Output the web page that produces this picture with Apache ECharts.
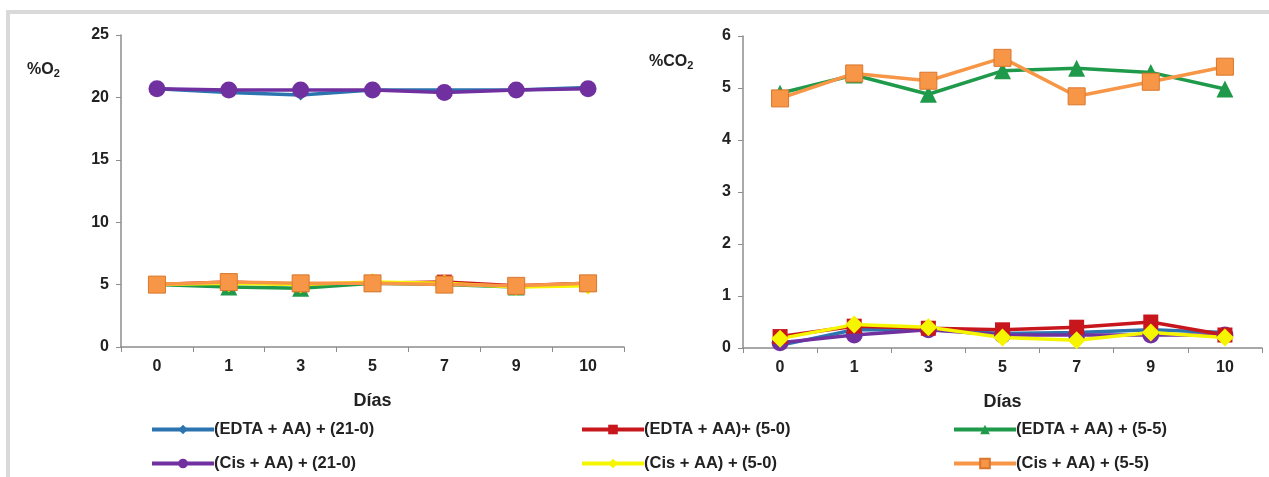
<!DOCTYPE html>
<html>
<head>
<meta charset="utf-8">
<script src="https://cdn.jsdelivr.net/npm/echarts@6/dist/echarts.min.js"></script>
<style>
  html, body { margin: 0; padding: 0; background: #fff; }
  #chart { width: 1269px; height: 477px; }
</style>
</head>
<body>
<div id="chart"></div>
<script>
// Storage days
const days = ['0', '1', '3', '5', '7', '9', '10'];

// Series names
const names = [
  '(EDTA + AA) + (21-0)',
  '(EDTA + AA)+ (5-0)',
  '(EDTA + AA) + (5-5)',
  '(Cis + AA) + (21-0)',
  '(Cis + AA) + (5-0)',
  '(Cis + AA) + (5-5)'
];

// %O2 per treatment
const o2EdtaAir   = [20.7, 20.4, 20.2, 20.6, 20.6, 20.6, 20.8];
const o2Edta50    = [5.0, 5.2, 5.0, 5.1, 5.2, 4.9, 5.1];
const o2Edta55    = [5.0, 4.8, 4.7, 5.1, 5.0, 4.8, 5.1];
const o2CisAir    = [20.7, 20.6, 20.6, 20.6, 20.4, 20.6, 20.7];
const o2Cis50     = [5.0, 5.1, 5.0, 5.2, 5.1, 4.8, 4.9];
const o2Cis55     = [5.0, 5.2, 5.1, 5.1, 5.0, 4.9, 5.1];

// %CO2 per treatment
const co2EdtaAir  = [0.05, 0.35, 0.35, 0.28, 0.30, 0.35, 0.30];
const co2Edta50   = [0.22, 0.42, 0.38, 0.35, 0.40, 0.50, 0.25];
const co2Edta55   = [4.90, 5.25, 4.88, 5.33, 5.38, 5.30, 4.98];
const co2CisAir   = [0.10, 0.25, 0.35, 0.25, 0.25, 0.25, 0.25];
const co2Cis50    = [0.18, 0.45, 0.40, 0.20, 0.15, 0.30, 0.20];
const co2Cis55    = [4.80, 5.28, 5.14, 5.58, 4.84, 5.12, 5.41];

// Axis tick settings
const o2Ticks  = { min: 0, max: 25, interval: 5 };
const co2Ticks = { min: 0, max: 6, interval: 1 };

const styles = [
  { color: '#2b74b0', symbol: 'diamond',  size: 11 },
  { color: '#c8161d', symbol: 'rect',     size: 15 },
  { color: '#1f9a4b', symbol: 'triangle', size: 17 },
  { color: '#7030a0', symbol: 'circle',   size: 17 },
  { color: '#f5f500', symbol: 'diamond',  size: 18 },
  { color: '#f79646', symbol: 'rect',     size: 17, border: '#d9772e' }
];

const FONT = 'Liberation Sans, Arial, sans-serif';

function makeSeries(idx, data, axisIdx) {
  const s = styles[idx];
  return {
    name: names[idx],
    type: 'line',
    xAxisIndex: axisIdx,
    yAxisIndex: axisIdx,
    data: data,
    symbol: s.symbol,
    symbolSize: s.size,
    showAllSymbol: true,
    lineStyle: { color: s.color, width: 3.5 },
    itemStyle: { color: s.color, borderColor: s.border || s.color, borderWidth: s.border ? 1 : 0 },
    emphasis: { disabled: true },
    animation: false
  };
}

function xAxis(gridIndex) {
  return {
    type: 'category',
    gridIndex: gridIndex,
    data: days,
    boundaryGap: true,
    name: 'Días',
    nameLocation: 'middle',
    nameGap: 45,
    nameTextStyle: { fontFamily: FONT, fontSize: 18, fontWeight: 'bold', color: '#222' },
    axisLine: { lineStyle: { color: '#8c8c8c', width: 1.5 } },
    axisTick: { show: true, length: 5, lineStyle: { color: '#8c8c8c' } },
    axisLabel: { fontFamily: FONT, fontSize: 16, fontWeight: 'bold', color: '#222', margin: 12 },
    splitLine: { show: false }
  };
}

function yAxis(gridIndex, ticks) {
  return {
    type: 'value',
    gridIndex: gridIndex,
    min: ticks.min,
    max: ticks.max,
    interval: ticks.interval,
    axisLine: { show: true, lineStyle: { color: '#8c8c8c', width: 1.5 } },
    axisTick: { show: true, length: 5, lineStyle: { color: '#8c8c8c' } },
    axisLabel: { fontFamily: FONT, fontSize: 16, fontWeight: 'bold', color: '#222', margin: 12 },
    splitLine: { show: false }
  };
}

// One legend block per entry, laid out in three columns and two rows
const legendPos = [
  { left: 150, top: 421 }, { left: 580, top: 421 }, { left: 952, top: 421 },
  { left: 150, top: 455 }, { left: 580, top: 455 }, { left: 952, top: 455 }
];
const legends = names.map((n, i) => ({
  data: [n],
  left: legendPos[i].left,
  top: legendPos[i].top,
  itemWidth: 62,
  itemHeight: 12,
  itemGap: 0,
  padding: 0,
  selectedMode: false,
  lineStyle: { width: 4 },
  textStyle: { fontFamily: FONT, fontSize: 16.5, fontWeight: 'bold', color: '#222', padding: [0, 0, 0, -5] }
}));

const axisTitleRich = {
  base: { fontFamily: FONT, fontSize: 16, fontWeight: 'bold', color: '#222' },
  sub: { fontFamily: FONT, fontSize: 11, fontWeight: 'bold', color: '#222', padding: [8, 0, 0, 0] }
};

const chart = echarts.init(document.getElementById('chart'), null, { renderer: 'canvas' });
chart.setOption({
  backgroundColor: '#ffffff',
  animation: false,
  title: [
    { text: '{base|%O}{sub|2}', left: 22, top: 55, textStyle: { rich: axisTitleRich } },
    { text: '{base|%CO}{sub|2}', left: 644, top: 47, textStyle: { rich: axisTitleRich } }
  ],
  graphic: [
    {
      type: 'polyline',
      shape: { points: [[8, 477], [8, 12], [1269, 12]] },
      style: { stroke: '#d9d9d9', lineWidth: 4, fill: null },
      silent: true
    }
  ],
  legend: legends,
  grid: [
    { left: 121, top: 35, width: 503, height: 312 },
    { left: 743, top: 36, width: 519, height: 312 }
  ],
  xAxis: [xAxis(0), xAxis(1)],
  yAxis: [yAxis(0, o2Ticks), yAxis(1, co2Ticks)],
  series: [
    makeSeries(0, o2EdtaAir, 0),
    makeSeries(3, o2CisAir, 0),
    makeSeries(1, o2Edta50, 0),
    makeSeries(2, o2Edta55, 0),
    makeSeries(4, o2Cis50, 0),
    makeSeries(5, o2Cis55, 0),
    makeSeries(0, co2EdtaAir, 1),
    makeSeries(3, co2CisAir, 1),
    makeSeries(1, co2Edta50, 1),
    makeSeries(4, co2Cis50, 1),
    makeSeries(2, co2Edta55, 1),
    makeSeries(5, co2Cis55, 1)
  ]
});
</script>
</body>
</html>
